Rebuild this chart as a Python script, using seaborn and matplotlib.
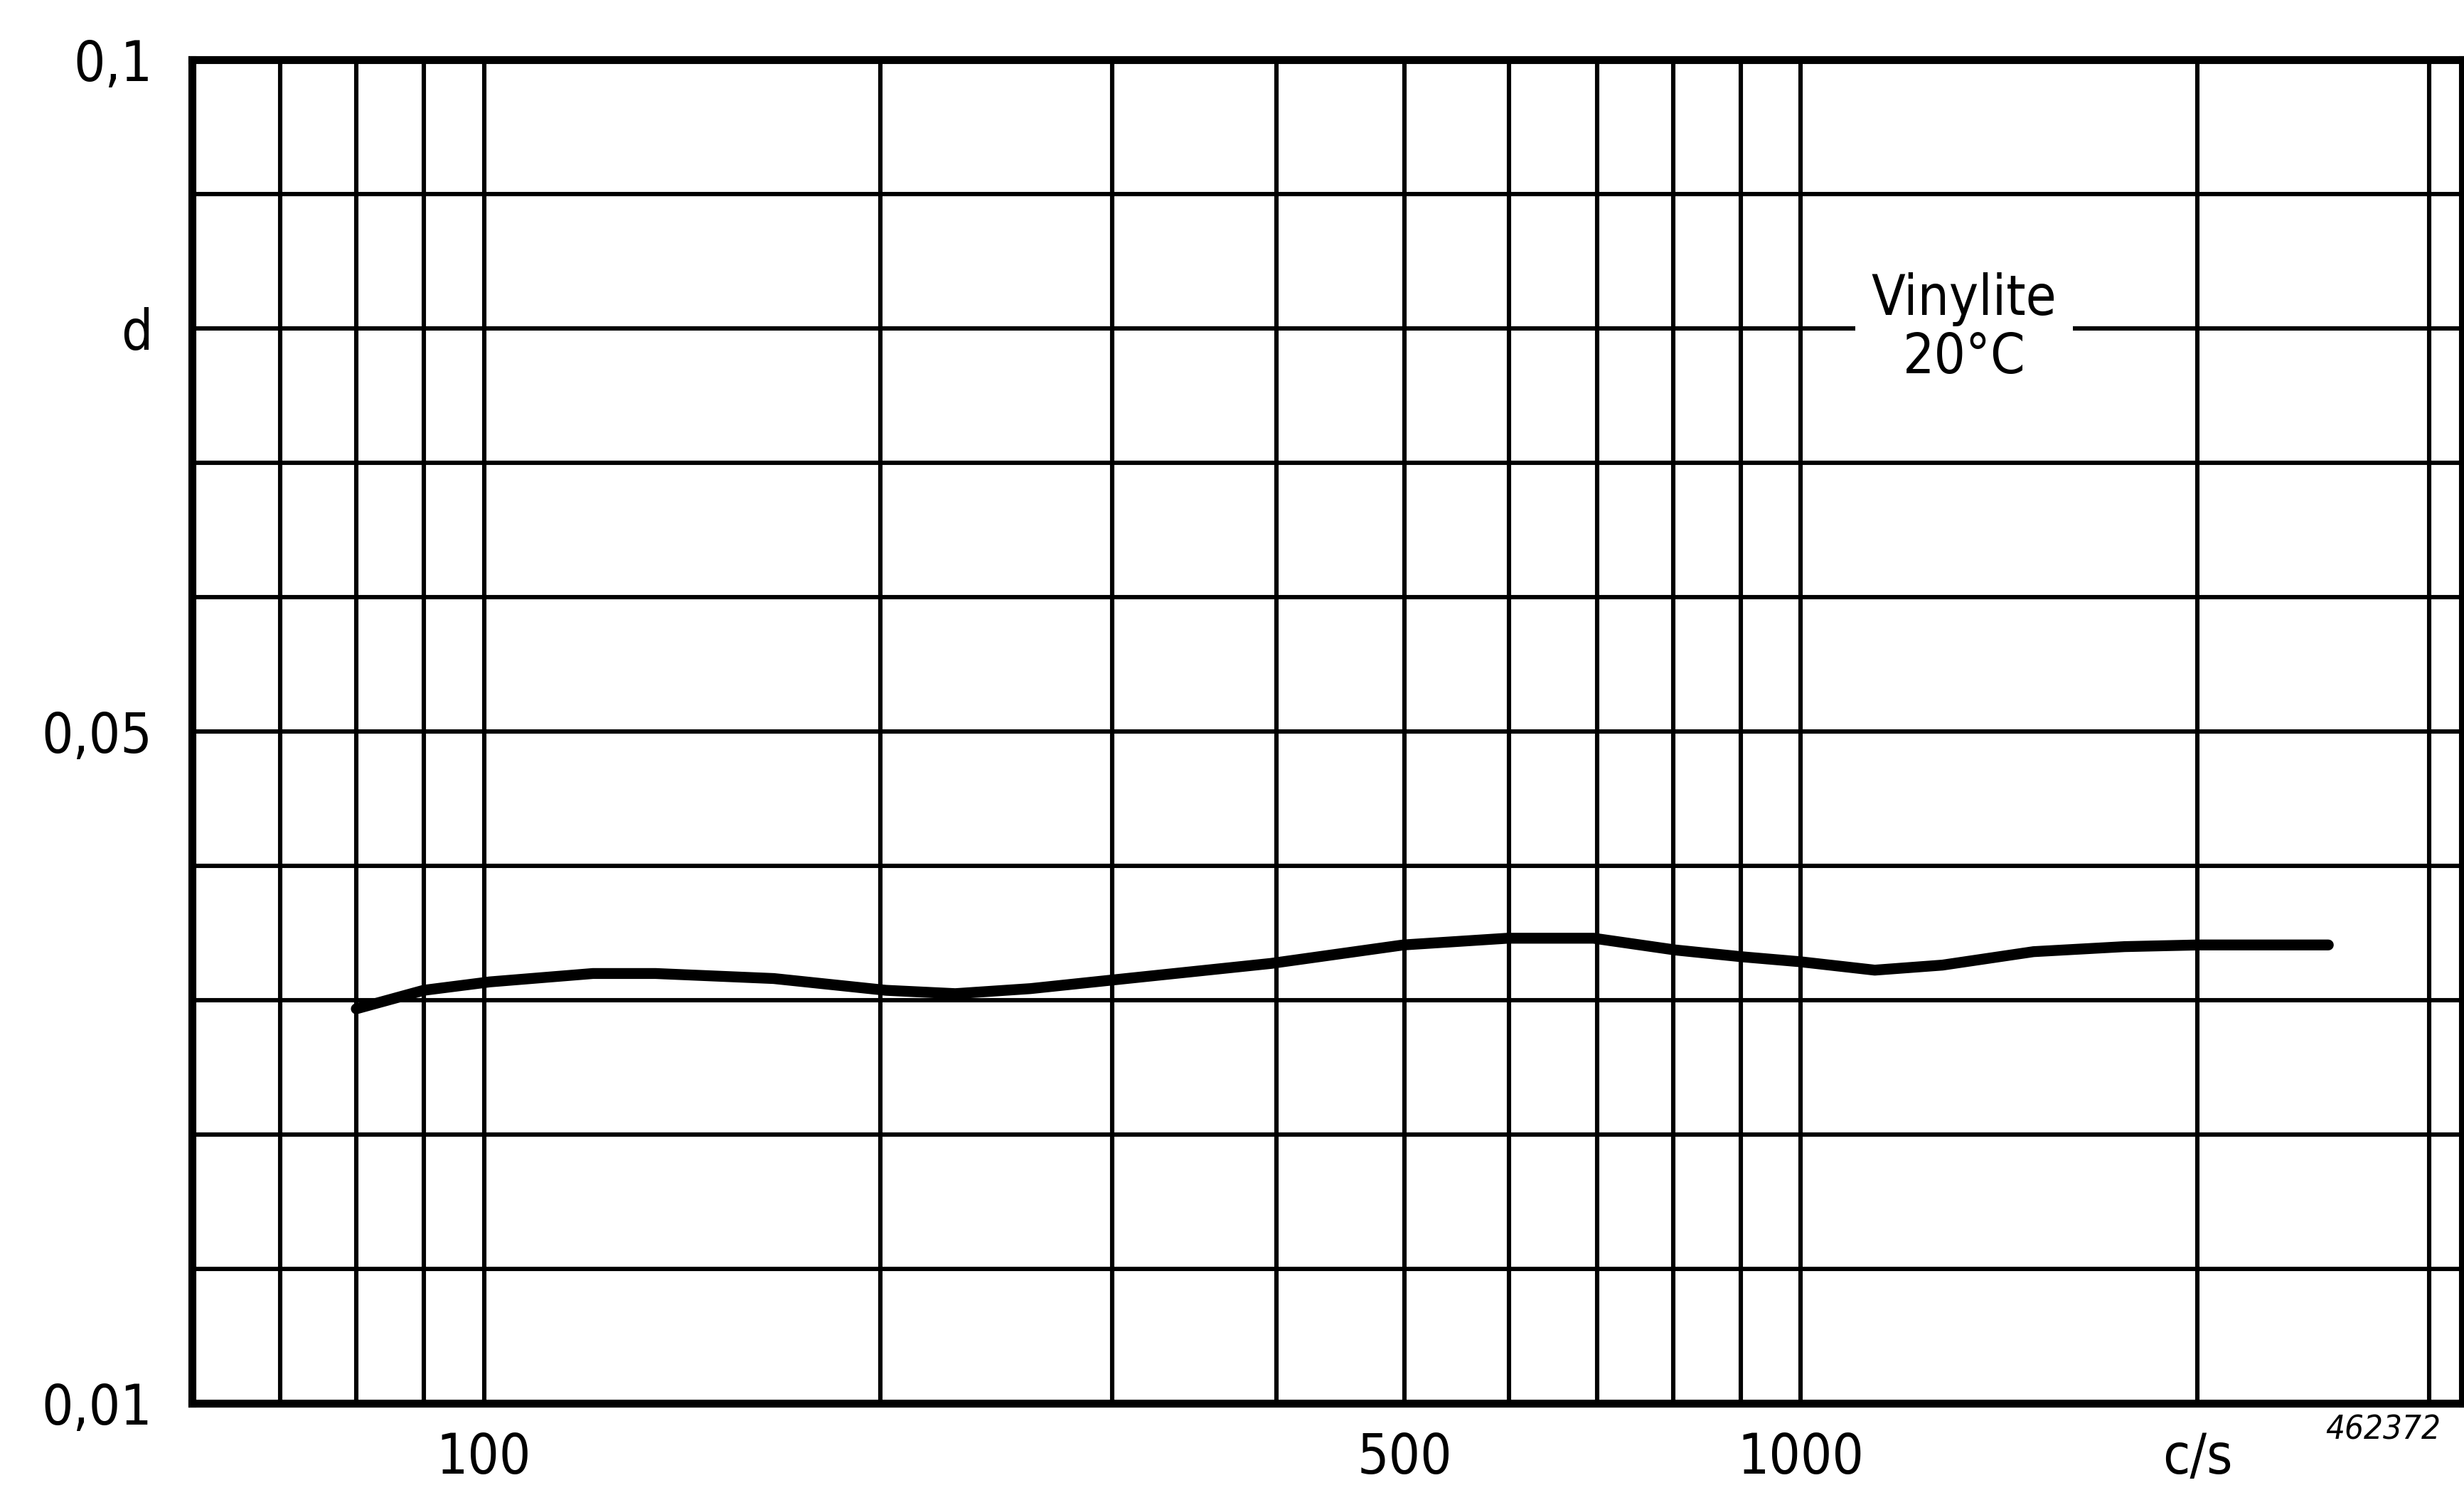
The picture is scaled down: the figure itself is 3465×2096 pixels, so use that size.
import numpy as np
import pandas as pd
import matplotlib
matplotlib.use("Agg")
import matplotlib.pyplot as plt
import seaborn as sns

# ---- data ----
freq = [80, 90, 101, 121, 135, 166, 202, 228, 260, 299, 396, 499, 599, 696,
        803, 901, 999, 1138, 1281, 1502, 1761, 2004, 2515]
d_val = [0.0335, 0.0346, 0.0351, 0.0356, 0.0356, 0.0353, 0.0346, 0.0344, 0.0347,
         0.0352, 0.0362, 0.0373, 0.0377, 0.0377, 0.0370, 0.0366, 0.0363, 0.0358,
         0.0361, 0.0369, 0.0372, 0.0373, 0.0373]

x_tick_vals = [100, 500, 1000, 2000]
x_tick_labels = ["100", "500", "1000", "c/s"]
x_grid_vals = [70, 80, 90, 200, 300, 400, 600, 700, 800, 900, 3000]
y_tick_vals = [0.01, 0.05, 0.08, 0.1]
y_tick_labels = ["0,01", "0,05", "d", "0,1"]
y_grid_vals = [0.018, 0.026, 0.034, 0.042, 0.06, 0.07, 0.09]
label_text = "Vinylite\n20°C"
label_pos = (1330, 0.08)
fig_number = "462372"

df = pd.DataFrame({"f": freq, "d": d_val})

sns.set_style("white")
plt.rcParams["font.family"] = ["DejaVu Sans"]
plt.rcParams["font.stretch"] = "condensed"
plt.rcParams["text.color"] = "black"
plt.rcParams["xtick.color"] = "black"
plt.rcParams["ytick.color"] = "black"

fig = plt.figure(figsize=(17.33, 10.48), dpi=200)
ax = fig.add_axes([0.0778, 0.058, 0.9213, 0.902])


def fwd(d):
    d = np.asarray(d, dtype=float)
    return np.where(d <= 0.05, (d - 0.01) / 0.08, 0.5 + (d - 0.05) / 0.1)


def inv(u):
    u = np.asarray(u, dtype=float)
    return np.where(u <= 0.5, 0.01 + 0.08 * u, 0.05 + 0.1 * (u - 0.5))


ax.set_xscale("log")
ax.set_yscale("function", functions=(fwd, inv))

sns.lineplot(data=df, x="f", y="d", ax=ax, color="black", linewidth=5.5,
             solid_capstyle="round", solid_joinstyle="round", zorder=5)

ax.set_xlim(60, 3180)
ax.set_ylim(0.01, 0.1)

ax.set_xticks(x_tick_vals)
ax.set_xticklabels(x_tick_labels)
ax.set_xticks(x_grid_vals, minor=True)
ax.set_xticklabels([], minor=True)
ax.set_yticks(y_tick_vals)
ax.set_yticklabels(y_tick_labels)
ax.set_yticks(y_grid_vals, minor=True)
ax.set_yticklabels([], minor=True)

ax.tick_params(axis="both", which="both", length=0, labelcolor="black")
ax.tick_params(axis="x", pad=14, labelsize=28)
ax.tick_params(axis="y", pad=20, labelsize=28)

ax.grid(True, which="both", color="black", linewidth=2.2)
ax.set_axisbelow(True)
for s in ax.spines.values():
    s.set_visible(True)
    s.set_color("black")
    s.set_linewidth(4.0)

ax.set_xlabel("")
ax.set_ylabel("")

ax.text(label_pos[0], label_pos[1], label_text, ha="center", va="center",
        fontsize=28, linespacing=1.1, zorder=6, color="black",
        bbox=dict(facecolor="white", edgecolor="none", pad=8))

fig.text(0.967, 0.04, fig_number, fontsize=17, style="italic",
         ha="center", va="center", color="black")

fig.savefig("out.png", dpi=200, facecolor="white")
